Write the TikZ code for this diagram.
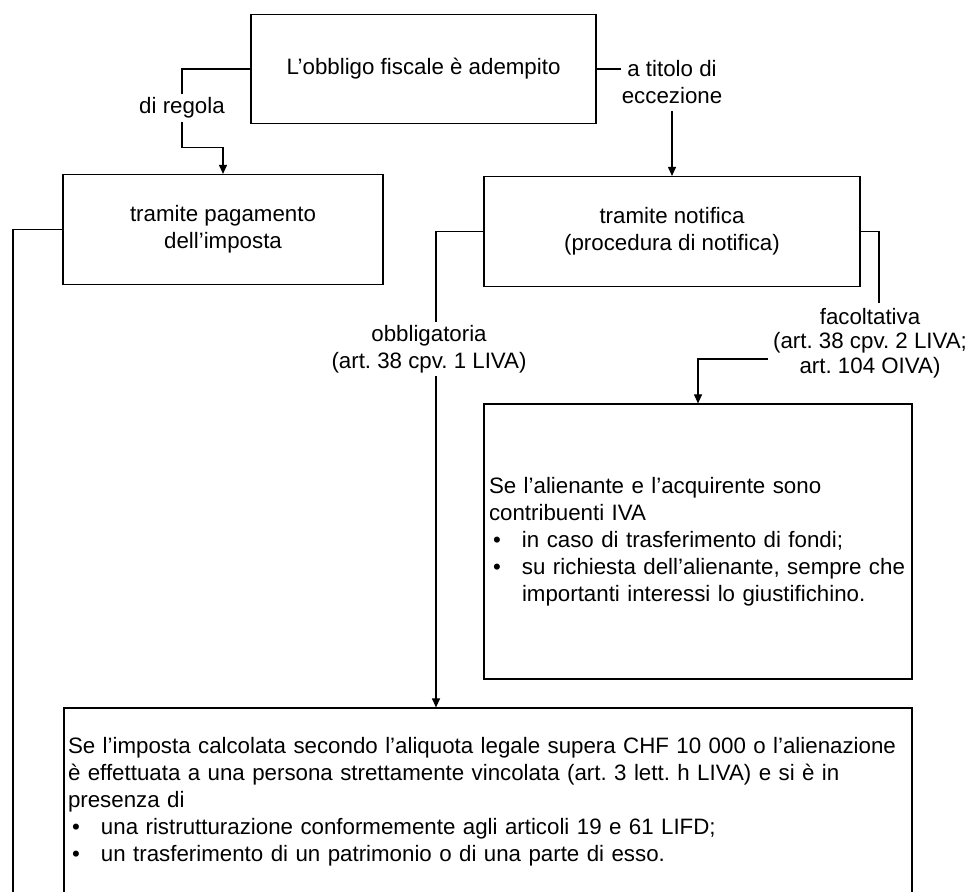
\documentclass[tikz,border=0pt]{standalone}
\usepackage{fontspec}
\setmainfont{Liberation Sans}
\usetikzlibrary{arrows.meta}

\newcommand{\punto}{\makebox[33pt][l]{\hspace{4pt}•}}
\frenchspacing

\begin{document}
\begin{tikzpicture}[x=1pt, y=-1pt,
        font=\fontsize{22.3}{27}\selectfont,
        caja/.style={draw, line width=1.2pt, align=center, inner sep=0pt},
        etiqueta/.style={fill=white, align=center, inner sep=3pt},
        linea/.style={line width=1.1pt},
        flecha/.style={line width=1.1pt, -{Triangle[length=9pt,width=8pt]}}]
    \useasboundingbox (0,0) rectangle (973,891);

    % Cajas
    \node[caja, minimum width=345pt, minimum height=109pt] (obbligo) at (423.5,69)
        {L’obbligo fiscale è adempito};
    \node[caja, minimum width=320pt, minimum height=110pt] (pagamento) at (223,229.5)
        {tramite pagamento\\dell’imposta};
    \node[caja, minimum width=376pt, minimum height=110pt] (notifica) at (672,231.5)
        {tramite notifica\\(procedura di notifica)};
    \node[caja, align=left, text width=418pt, minimum height=275pt, inner sep=5pt] (alienante) at (698,541.5)
        {Se l’alienante e l’acquirente sono\\
         contribuenti IVA\\
         \punto in caso di trasferimento di fondi;\\
         \punto su richiesta dell’alienante, sempre che\\
         \hspace*{33pt}importanti interessi lo giustifichino.};
    \node[caja, align=left, text width=840pt, minimum height=188pt, inner sep=4pt] (presenza) at (488,802)
        {Se l’imposta calcolata secondo l’aliquota legale supera CHF 10~000 o l’alienazione\\
         è effettuata a una persona strettamente vincolata (art. 3 lett. h LIVA) e si è in\\
         presenza di\\
         \punto una ristrutturazione conformemente agli articoli 19 e 61 LIFD;\\
         \punto un trasferimento di un patrimonio o di una parte di esso.};

    % Etiquetas
    \node[etiqueta] (regola) at (182,108) {di regola};
    \node[etiqueta, inner xsep=1pt, inner ysep=7pt] (titolo) at (672,82.5) {a titolo di\\eccezione};

    % Conectores
    \draw[linea] (obbligo.west) -| (regola.north);
    \draw[flecha] (regola.south) -- ++(0,26) -| (pagamento.north);
    \draw[linea] (obbligo.east) -- (obbligo.east -| titolo.west);
    \draw[flecha] (titolo.south) -- (notifica.north);
    \draw[flecha] (notifica.west) -| ([xshift=-52pt]presenza.north);
    \draw[linea] (pagamento.west) -| (13,895);

    \node[etiqueta, inner sep=3.5pt] (obbligatoria) at (429,349) {obbligatoria\\(art. 38 cpv. 1 LIVA)};
    \node[etiqueta, inner sep=5pt, font=\fontsize{22.3}{24.7}\selectfont] (facoltativa) at (870,343)
        {facoltativa\\(art. 38 cpv. 2 LIVA;\\art. 104 OIVA)};

    \draw[linea] (notifica.east) -| ([xshift=9pt]facoltativa.north);
    \draw[flecha] ([yshift=-16pt]facoltativa.west) -| (alienante.north);
\end{tikzpicture}
\end{document}
